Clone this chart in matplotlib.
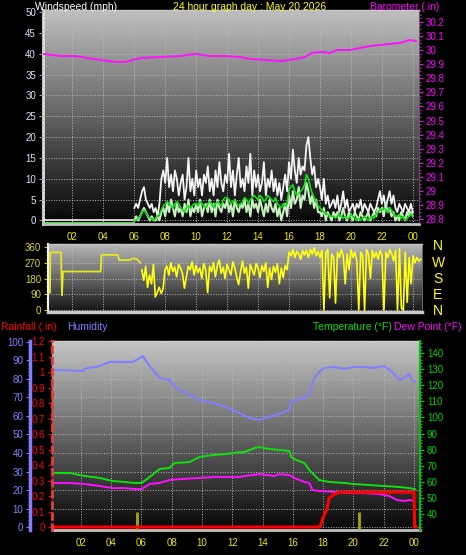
import numpy as np
import matplotlib
matplotlib.use("Agg")
import matplotlib.pyplot as plt
from matplotlib.ticker import MultipleLocator, FuncFormatter

plt.rcParams['font.family'] = ['Liberation Sans', 'DejaVu Sans']

# ---- data (hours of day) ----
hour_ticks = [2, 4, 6, 8, 10, 12, 14, 16, 18, 20, 22, 24]
hour_labels = ["02", "04", "06", "08", "10", "12", "14", "16", "18", "20", "22", "00"]

# calm period before 06:00
calm_hours = [0.13, 6.0]
calm_vals = [0, 0]

# wind samples every 7.5 minutes from 06:00 to 00:00
wind_hours = np.arange(6.0, 24.001, 0.125)
gust = [3, 4, 3, 5, 7, 8, 5, 4,
        3, 4, 2, 3, 1, 4, 10, 12,
        9, 15, 8, 11, 7, 12, 10, 6,
        9, 11, 5, 8, 15, 7, 10, 6,
        12, 8, 10, 6, 11, 9, 13, 7,
        10, 6, 12, 8, 14, 9, 7, 11,
        9, 16, 8, 12, 6, 11, 15, 8,
        10, 7, 13, 9, 16, 6, 12, 8,
        11, 7, 9, 14, 6, 10, 8, 12,
        7, 10, 6, 9, 5, 8, 11, 7,
        14, 10, 17, 12, 9, 15, 11, 13,
        12, 18, 20, 15, 11, 13, 8, 10,
        8, 5, 10, 4, 6, 3, 4, 5,
        3, 6, 2, 4, 7, 3, 5, 2,
        3, 4, 2, 4, 3, 5, 2, 4,
        3, 2, 4, 3, 2, 3, 5, 7,
        4, 6, 3, 5, 7, 4, 6, 3,
        2, 4, 3, 2, 4, 3, 2, 4,
        2]
speed = [0, 1, 0, 1, 2, 3, 2, 1,
         0, 1, 0, 0, 1, 0, 2, 3,
         1, 4, 2, 5, 3, 1, 4, 2,
         3, 1, 4, 2, 5, 1, 3, 2,
         4, 2, 5, 1, 3, 4, 2, 5,
         2, 4, 1, 5, 3, 2, 4, 3,
         5, 2, 4, 1, 5, 3, 2, 4,
         3, 5, 2, 4, 1, 5, 3, 4,
         2, 5, 3, 1, 4, 2, 5, 3,
         2, 4, 1, 3, 0, 2, 4, 1,
         6, 3, 7, 4, 5, 8, 3, 6,
         5, 9, 7, 4, 6, 3, 5, 2,
         2, 1, 3, 0, 2, 1, 0, 2,
         1, 2, 0, 1, 3, 1, 0, 2,
         1, 0, 2, 1, 0, 2, 1, 0,
         1, 2, 0, 1, 2, 1, 3, 2,
         3, 1, 4, 2, 3, 1, 2, 0,
         1, 0, 2, 1, 0, 2, 1, 2,
         1]
avg_speed = [0, 0, 0.5, 1, 2, 2.5, 2, 1,
             0.5, 0.5, 0, 0.5, 1, 1.5, 2.5, 3.5,
             4, 4.5, 4, 3.5, 3, 4, 4.5, 4,
             3, 2.5, 2, 3, 3.5, 3, 3.5, 4,
             4, 3.5, 4.5, 4, 3.5, 3, 4, 4.5,
             4, 3, 4, 4.5, 4, 3.5, 5, 5.5,
             5.5, 5, 4, 4.5, 5, 4, 3.5, 4,
             4.5, 5.5, 5, 4, 5, 5.5, 6, 5.5,
             5, 6, 5.5, 4.5, 5, 6, 5.5, 5,
             4.5, 5.5, 4, 3.5, 3, 4, 3.5, 4,
             7.5, 8, 8.5, 7, 6, 6.5, 7, 7.5,
             8.5, 11, 10, 8, 6.5, 5.5, 4.5, 3.5,
             3, 2.5, 2, 1.5, 1.5, 1, 1, 1,
             0.5, 1, 1.5, 1, 0.5, 1, 0.5, 0.5,
             1.5, 1, 0.5, 0, 0.5, 0, 0.5, 1,
             0.5, 0, 0.5, 1, 0.5, 1.5, 2, 2.5,
             2.5, 3, 2.5, 2, 3, 2.5, 1.5, 1,
             1, 1.5, 0.5, 1, 0, 0.5, 1, 1.5,
             1]

baro_hours = [0.13, 1.23, 2.19, 3.81, 4.77, 5.42, 6.39, 7.68, 8.97, 9.94,
              10.9, 11.87, 12.84, 13.48, 14.45, 15.42, 16.06, 17.03, 17.48, 18.0,
              18.65, 19.1, 19.94, 20.58, 21.23, 21.87, 22.52, 23.16, 23.8, 24.19]
baro_vals = [29.973, 29.958, 29.958, 29.930, 29.916, 29.916, 29.944, 29.951, 29.958, 29.973,
             29.958, 29.958, 29.951, 29.937, 29.930, 29.923, 29.930, 29.951, 29.980, 29.987,
             29.980, 30.001, 30.001, 30.015, 30.029, 30.036, 30.044, 30.051, 30.072, 30.065]

# wind direction: steps in the calm night, then samples every 7.5 min
dir_early_hours = [0.58, 0.6, 1.29, 1.35, 1.42, 3.85, 3.9, 4.95, 5.05, 5.7, 5.9, 6.2, 6.4]
dir_early = [100, 330, 330, 85, 220, 220, 315, 315, 285, 285, 295, 290, 270]
dir_hours = np.arange(6.5, 24.501, 0.125)
direction = [230, 170, 250, 130, 200, 150, 260, 75,
             100, 130, 95, 120, 230, 250, 200, 270,
             220, 245, 190, 260, 240, 210, 125, 190,
             250, 230, 275, 200, 255, 215, 240, 180,
             265, 230, 100, 250, 220, 270, 190, 255,
             285, 210, 245, 180, 260, 230, 200, 275,
             240, 190, 145, 220, 280, 210, 245, 125,
             260, 230, 200, 265, 240, 185, 255, 220,
             270, 130, 240, 175, 250, 215, 265, 150,
             240, 185, 255, 230, 330, 310, 345, 300,
             335, 320, 290, 340, 315, 340, 300, 345,
             320, 355, 310, 335, 300, 340, 0, 330,
             345, 70, 320, 300, 40, 330, 300, 345,
             310, 150, 320, 230, 345, 300, 330, 280,
             0, 330, 310, 0, 345, 320, 180, 340,
             300, 330, 290, 340, 310, 0, 330, 300,
             345, 320, 280, 340, 0, 350, 10, 0,
             330, 45, 300, 150, 310, 270, 300, 280,
             290]

hum_hours = [0.16, 2.13, 2.4, 3.06, 3.91, 5.43, 5.69, 6.09, 6.35, 6.75, 7.21, 7.86, 8.2, 9.18,
             9.84, 10.7, 11.62, 12.48, 13.14, 13.79, 14.45, 15.11, 15.77, 15.9, 16.43, 16.76,
             17.09, 17.42, 17.75, 18.08, 18.74, 19.4, 20.05, 20.7, 21.37, 22.03, 22.56, 23.02,
             23.35, 23.68, 23.87, 24.07]
humidity = [84.9, 84.3, 85.9, 86.5, 89.2, 89.2, 90.3, 92.4, 89.2, 84.9, 80.5, 79.5, 75.7, 71.4,
            68.6, 67.0, 64.9, 61.6, 58.9, 57.8, 59.5, 61.1, 63.2, 67.6, 69.2, 69.7,
            72.4, 80.5, 83.8, 85.9, 86.5, 85.4, 86.5, 86.5, 85.9, 87.0, 83.8, 79.5,
            80.5, 82.7, 79.5, 78.4]

temp_hours = [0.16, 1.28, 2.27, 3.25, 4.11, 4.9, 5.56, 6.02, 6.55, 7.21, 7.86, 8.2, 9.18, 9.84,
              10.7, 11.62, 12.48, 12.81, 13.47, 13.79, 14.45, 15.11, 15.77, 15.9, 16.23, 16.76,
              17.09, 17.42, 17.75, 18.4, 19.4, 20.05, 21.04, 22.03, 23.02, 23.68, 24.07]
temperature = [65.5, 65.5, 63.6, 62.4, 60.5, 59.9, 59.3, 59.3, 63.0, 68.0, 68.6, 71.7, 72.3, 75.4,
               76.6, 77.3, 78.5, 78.5, 81.0, 81.6, 80.4, 79.8, 79.1, 75.4, 73.5, 71.7,
               67.3, 64.2, 61.1, 59.9, 59.3, 58.6, 58.0, 57.4, 56.8, 56.1, 55.5]

dew_hours = [0.16, 1.28, 2.27, 3.25, 4.11, 4.9, 5.56, 6.02, 6.55, 7.21, 7.86, 8.52, 9.84, 10.7,
             11.62, 12.48, 12.81, 13.79, 14.78, 15.11, 15.77, 16.1, 16.76, 17.09, 17.29, 17.75,
             18.74, 19.71, 20.7, 21.7, 22.36, 22.89, 23.35, 23.68, 24.0]
dew_point = [59.3, 59.3, 58.6, 57.4, 56.1, 56.1, 55.5, 55.5, 58.6, 59.3, 61.1, 61.7, 62.4, 63.0,
             63.0, 63.0, 63.6, 64.8, 63.6, 64.8, 64.2, 62.4, 59.9, 59.3, 54.9, 54.3,
             53.7, 53.0, 53.0, 52.4, 51.2, 48.7, 48.1, 48.7, 48.1]

rain_hours = [0.1, 17.8, 17.94, 18.07, 18.27, 18.4, 18.73, 19.06, 24.0, 24.05, 24.15]
rainfall = [0, 0, 0.045, 0.077, 0.12, 0.187, 0.21, 0.225, 0.225, 0, 0]

rate_hours = [5.69, 20.38]
rain_rate = [0.1, 0.1]

# ---- helpers ----
W, H = 466, 555


def rect(x0, y0, x1, y1):
    return [x0 / W, 1 - y1 / H, (x1 - x0) / W, (y1 - y0) / H]


def shade(ax, top, bottom):
    grad = np.linspace(top, bottom, 256).reshape(-1, 1)
    ax.imshow(grad, cmap='gray', vmin=0, vmax=1, aspect='auto',
              extent=(0, 1, 0, 1), transform=ax.transAxes, zorder=0)


def plain_fmt(v, pos):
    s = f"{v:.1f}".rstrip('0').rstrip('.')
    return s


fig = plt.figure(figsize=(W / 100, H / 100), dpi=100, facecolor='black')
grid_kw = dict(color='#b8b8b8', linestyle=':', linewidth=0.7)

# ---- top: wind speed + barometer ----
ax_w = fig.add_axes(rect(43, 10, 419, 224))
ax_w.set_facecolor('black')
shade(ax_w, 0.75, 0.02)
ax_w.plot(calm_hours, calm_vals, color='#f0f0f0', lw=1.2, zorder=3)
ax_w.plot(wind_hours, gust, color='#f4f4f4', lw=1.3, zorder=3)
ax_w.plot(wind_hours, speed, color='#c8f0c0', lw=1.5, zorder=4)
ax_w.plot(calm_hours, [-0.5, -0.5], color='#80e080', lw=1.2, zorder=4)
ax_w.plot(wind_hours, avg_speed, color='#10e010', lw=1.2, zorder=5)
ax_w.set_xlim(0.1, 24.4)
ax_w.set_ylim(-0.85, 50.5)
ax_w.set_yticks(range(0, 51, 5))
ax_w.yaxis.set_minor_locator(MultipleLocator(1))
ax_w.set_xticks(hour_ticks)
ax_w.set_xticklabels(hour_labels)
ax_w.tick_params(axis='y', which='both', colors='#a0a0a0', labelcolor='#d8e4ff',
                 labelsize=7, pad=2)
ax_w.tick_params(axis='y', which='major', length=3)
ax_w.tick_params(axis='y', which='minor', length=1.5)
ax_w.tick_params(axis='x', colors='#e8e800', labelsize=7, length=0, pad=6)
ax_w.grid(True, **grid_kw)
ax_w.set_axisbelow(False)
for side, col, lw in [('left', '#e0e0e0', 2), ('bottom', '#c0c0c0', 2),
                      ('top', '#c8c8c8', 1), ('right', '#808080', 0.5)]:
    ax_w.spines[side].set_color(col)
    ax_w.spines[side].set_linewidth(lw)

ax_b = ax_w.twinx()
ax_b.plot(baro_hours, baro_vals, color='#ff10ff', lw=1.4)
ax_b.set_ylim(28.765, 30.285)
ax_b.set_yticks(np.round(np.arange(28.8, 30.21, 0.1), 1))
ax_b.yaxis.set_major_formatter(FuncFormatter(plain_fmt))
ax_b.yaxis.set_minor_locator(MultipleLocator(0.025))
ax_b.tick_params(axis='y', which='both', colors='#ff00ff', labelsize=7, pad=2)
ax_b.tick_params(axis='y', which='major', length=3)
ax_b.tick_params(axis='y', which='minor', length=1.5)
for s in ax_b.spines.values():
    s.set_visible(False)

fig.text(35 / W, 1 - 7 / H, "Windspeed (mph)", color='white', fontsize=7.5, va='center')
fig.text(173 / W, 1 - 7 / H, "24 hour graph day : May 20 2026", color='#ffff00',
         fontsize=7.5, va='center')
fig.text(439 / W, 1 - 7 / H, "Barometer (.in)", color='#ff00ff', fontsize=7.5,
         va='center', ha='right')

# ---- middle: wind direction ----
ax_d = fig.add_axes(rect(48, 244, 422, 312))
ax_d.set_facecolor('black')
shade(ax_d, 0.72, 0.08)
ax_d.plot(dir_early_hours, dir_early, color='#e8e820', lw=1.3, zorder=3)
ax_d.plot(dir_hours, direction, color='#ffff10', lw=1.2, zorder=3)
ax_d.set_xlim(0.45, 24.58)
ax_d.set_ylim(-11, 377)
ax_d.set_yticks([0, 90, 180, 270, 360])
ax_d.yaxis.set_minor_locator(MultipleLocator(22.5))
ax_d.set_xticks(hour_ticks)
ax_d.set_xticklabels([])
ax_d.tick_params(axis='x', length=0)
ax_d.tick_params(axis='y', which='both', colors='#c8c800', labelcolor='#d8d820',
                 labelsize=7, pad=2)
ax_d.tick_params(axis='y', which='major', length=3)
ax_d.tick_params(axis='y', which='minor', length=1.5)
ax_d.grid(True, **grid_kw)
for side, col, lw in [('left', '#f0f0f0', 1.5), ('bottom', '#c8c8c8', 2.5),
                      ('top', '#c8c8c8', 1), ('right', '#909090', 0.5)]:
    ax_d.spines[side].set_color(col)
    ax_d.spines[side].set_linewidth(lw)

for letter, yy in zip(["N", "W", "S", "E", "N"], [246, 263, 279, 295, 311]):
    fig.text(438 / W, 1 - yy / H, letter, color='#ffff00', fontsize=10,
             ha='center', va='center')

# ---- bottom: humidity, rainfall, temperature, dew point ----
ax_h = fig.add_axes(rect(52, 341, 420, 530))
ax_h.set_facecolor('black')
shade(ax_h, 0.77, 0.03)
ax_h.plot(hum_hours, humidity, color='#8080ff', lw=1.5, zorder=3)
ax_h.set_xlim(0.1, 24.4)
ax_h.set_ylim(-1.6, 100.5)
ax_h.set_yticks(range(0, 101, 10))
ax_h.yaxis.set_minor_locator(MultipleLocator(2))
ax_h.set_xticks(hour_ticks)
ax_h.set_xticklabels(hour_labels)
ax_h.tick_params(axis='x', colors='#e8e800', labelsize=7, length=0, pad=6)
ax_h.tick_params(axis='y', which='both', colors='#8080ff', labelsize=7, pad=2)
ax_h.tick_params(axis='y', which='major', length=3)
ax_h.tick_params(axis='y', which='minor', length=1.5)
ax_h.grid(True, **grid_kw)
ax_h.spines['left'].set_position(('outward', 15.8))
ax_h.spines['left'].set_color('#8080ff')
ax_h.spines['left'].set_linewidth(2.5)
for side, col, lw in [('bottom', '#c0c0c0', 2), ('top', '#d0d0d0', 1)]:
    ax_h.spines[side].set_color(col)
    ax_h.spines[side].set_linewidth(lw)
ax_h.spines['right'].set_visible(False)

ax_t = ax_h.twinx()
ax_t.plot(temp_hours, temperature, color='#10e010', lw=1.4)
ax_t.plot(dew_hours, dew_point, color='#ff10ff', lw=1.4)
ax_t.set_ylim(30.06, 147.5)
ax_t.set_yticks(range(40, 141, 10))
ax_t.yaxis.set_minor_locator(MultipleLocator(2))
ax_t.tick_params(axis='y', which='both', colors='#00d000', labelsize=7, pad=2)
ax_t.tick_params(axis='y', which='major', length=3)
ax_t.tick_params(axis='y', which='minor', length=1.5)
for s in ax_t.spines.values():
    s.set_visible(False)
ax_t.spines['right'].set_visible(True)
ax_t.spines['right'].set_color('#00c000')
ax_t.spines['right'].set_linewidth(1.5)

ax_r = ax_h.twinx()
ax_r.vlines(rate_hours, -0.019, rain_rate, color='#a8a800', lw=2)
ax_r.plot(rain_hours, rainfall, color='#ff0000', lw=2.2)
ax_r.set_ylim(-0.019, 1.2)
ax_r.yaxis.tick_left()
ax_r.set_yticks(np.round(np.arange(0, 1.21, 0.1), 1))
ax_r.yaxis.set_major_formatter(FuncFormatter(plain_fmt))
ax_r.yaxis.set_minor_locator(MultipleLocator(0.025))
ax_r.tick_params(axis='y', which='both', colors='#ff0000', labelsize=7, pad=2)
ax_r.tick_params(axis='y', which='major', length=3)
ax_r.tick_params(axis='y', which='minor', length=1.5)
for s in ax_r.spines.values():
    s.set_visible(False)
ax_r.spines['left'].set_visible(True)
ax_r.spines['left'].set_color('#e04040')
ax_r.spines['left'].set_linestyle((0, (2, 2)))
ax_r.spines['left'].set_linewidth(2)

fig.text(1 / W, 1 - 327 / H, "Rainfall (.in)", color='#ff0000', fontsize=7.5, va='center')
fig.text(67 / W, 1 - 327 / H, "Humidity", color='#8080ff', fontsize=7.5, va='center')
fig.text(313 / W, 1 - 327 / H, "Temperature (\u00b0F)", color='#00e000', fontsize=7.5,
         va='center')
fig.text(462 / W, 1 - 327 / H, "Dew Point (\u00b0F)", color='#ff00ff', fontsize=7.5,
         va='center', ha='right')

fig.savefig("out.png", dpi=100, facecolor='black')
